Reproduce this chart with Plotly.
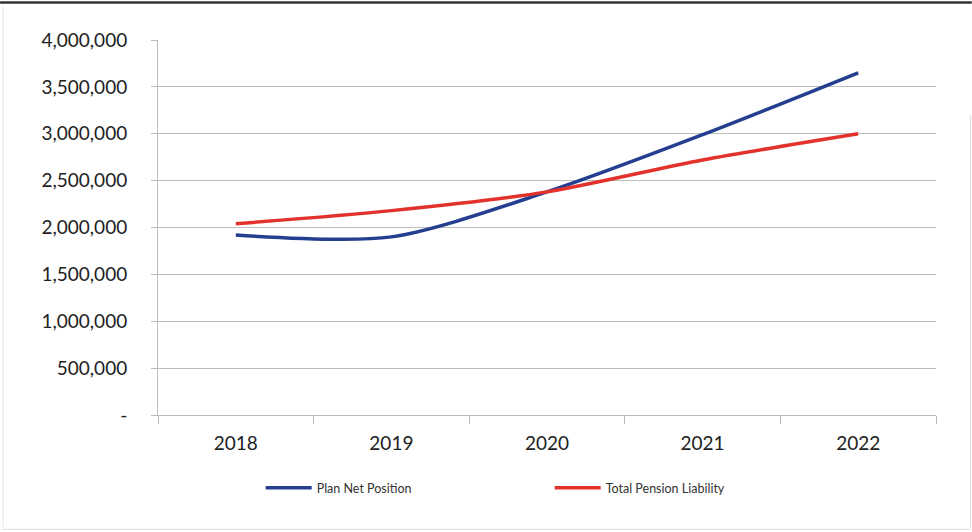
import plotly.graph_objects as go

years = ["2018", "2019", "2020", "2021", "2022"]
plan_net_position = [1920000, 1900000, 2380000, 2990000, 3650000]
total_pension_liability = [2040000, 2180000, 2380000, 2720000, 3000000]
y_ticks = [0, 500000, 1000000, 1500000, 2000000, 2500000, 3000000, 3500000, 4000000]
y_tick_labels = ["-", "500,000", "1,000,000", "1,500,000", "2,000,000",
                 "2,500,000", "3,000,000", "3,500,000", "4,000,000"]

FONT = "Lato"

fig = go.Figure()
fig.add_trace(go.Scatter(
    x=years, y=plan_net_position, name="Plan Net Position", mode="lines",
    line=dict(color="#243f8f", width=3.5, shape="spline", smoothing=0.8),
))
fig.add_trace(go.Scatter(
    x=years, y=total_pension_liability, name="Total Pension Liability", mode="lines",
    line=dict(color="#e2322b", width=3.5, shape="spline", smoothing=0.8),
))

fig.update_layout(
    width=972, height=532,
    margin=dict(l=158, r=36, t=40, b=117),
    paper_bgcolor="white", plot_bgcolor="white",
    font=dict(family=FONT, color="#333333"),
    showlegend=True,
    legend=dict(
        orientation="h", x=0.132, y=-0.155, xanchor="left", yanchor="top",
        entrywidth=228, entrywidthmode="pixels",
        font=dict(size=12.5, color="#333333", family=FONT),
        itemwidth=46, tracegroupgap=0,
    ),
    xaxis=dict(
        type="category", tickson="boundaries", ticks="outside", ticklen=8,
        tickcolor="#bbbbbb", showline=True, linecolor="#bbbbbb", linewidth=1,
        showgrid=False, tickfont=dict(size=19, color="#222222"),
        range=[-0.5, 4.5], ticklabelstandoff=11,
    ),
    yaxis=dict(
        range=[0, 4000000], tickvals=y_ticks, ticktext=y_tick_labels,
        ticks="outside", ticklen=6, tickcolor="#bbbbbb",
        showline=True, linecolor="#bbbbbb", linewidth=1,
        showgrid=True, gridcolor="#bdbdbd", gridwidth=1,
        zeroline=False, tickfont=dict(size=19, color="#222222"),
        ticklabelstandoff=20,
    ),
    shapes=[
        dict(type="line", xref="paper", yref="paper", x0=-0.203, x1=1.046, y0=1.1, y1=1.1,
             line=dict(color="#333333", width=2.5)),
        dict(type="line", xref="paper", yref="paper", x0=1.0445, x1=1.0445, y0=0.8, y1=-0.3,
             line=dict(color="#dddddd", width=1)),
        dict(type="line", xref="paper", yref="paper", x0=-0.199, x1=-0.199, y0=1.09, y1=-0.3,
             line=dict(color="#e6e6e6", width=1)),
        dict(type="line", xref="paper", yref="paper", x0=-0.2, x1=1.045, y0=-0.305, y1=-0.305,
             line=dict(color="#dddddd", width=1)),
    ],
)

fig.write_html("out.html", config={"displayModeBar": False},
               post_script="document.body.style.margin='0';")
